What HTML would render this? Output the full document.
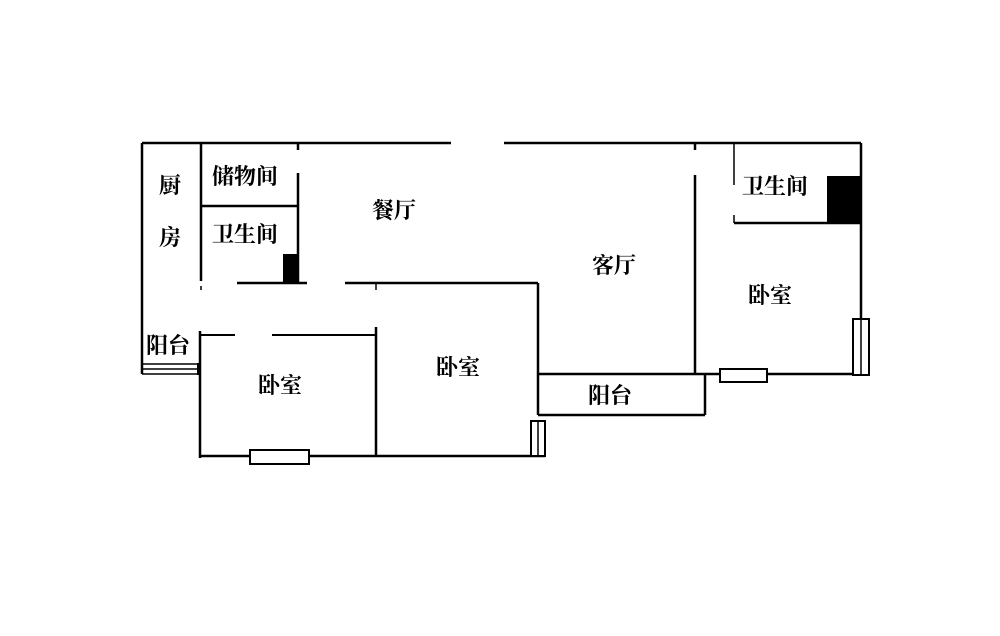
<!DOCTYPE html>
<html><head><meta charset="utf-8"><style>
html,body{margin:0;padding:0;background:#fff;}
svg{display:block}
text{font-family:"Liberation Serif","Noto Serif CJK SC",serif;font-size:22px;font-weight:bold;fill:#000;}
</style></head><body>
<svg width="1000" height="636" viewBox="0 0 1000 636" xmlns="http://www.w3.org/2000/svg">
<g stroke="#000" stroke-width="2.5" fill="none">
<line x1="142" y1="143" x2="451" y2="143"/>
<line x1="504" y1="143" x2="861" y2="143"/>
<line x1="142" y1="143" x2="142" y2="374"/>
<line x1="201" y1="143" x2="201" y2="281"/>
<line x1="201" y1="286" x2="201" y2="290" stroke-width="1.5"/>
<line x1="298" y1="143" x2="298" y2="150"/>
<line x1="298" y1="173" x2="298" y2="283"/>
<line x1="201" y1="206" x2="298" y2="206"/>
<line x1="237" y1="283" x2="307" y2="283"/>
<line x1="345" y1="283" x2="538" y2="283"/>
<line x1="376" y1="283" x2="376" y2="290" stroke-width="1.5"/>
<line x1="538" y1="283" x2="538" y2="415"/>
<line x1="538" y1="374" x2="861" y2="374"/>
<line x1="538" y1="415" x2="705" y2="415"/>
<line x1="705" y1="374" x2="705" y2="415"/>
<line x1="695" y1="143" x2="695" y2="150"/>
<line x1="695" y1="175" x2="695" y2="375"/>
<line x1="861" y1="143" x2="861" y2="375"/>
<line x1="734" y1="143" x2="734" y2="185" stroke-width="1.5"/>
<line x1="734" y1="215" x2="734" y2="223" stroke-width="1.5"/>
<line x1="734" y1="223" x2="861" y2="223"/>
<line x1="200" y1="335" x2="235" y2="335" stroke-width="2"/>
<line x1="272" y1="335" x2="376" y2="335" stroke-width="2"/>
<line x1="376" y1="327" x2="376" y2="456"/>
<line x1="200" y1="331" x2="200" y2="458"/>
<line x1="200" y1="456" x2="545" y2="456"/>
<line x1="142" y1="364" x2="199" y2="364" stroke-width="1.5"/>
<line x1="142" y1="369" x2="199" y2="369" stroke-width="1.5"/>
<line x1="142" y1="374" x2="199" y2="374" stroke-width="1.5"/>
</g>
<rect x="197" y="363" width="4" height="12" fill="#000"/>
<rect x="283" y="254" width="15" height="29" fill="#000"/>
<rect x="827" y="176" width="34" height="47" fill="#000"/>
<g stroke="#000" stroke-width="2" fill="#fff">
<rect x="250" y="450" width="59" height="14"/>
<rect x="531" y="421" width="14" height="35"/>
<rect x="720" y="369" width="47" height="13"/>
<rect x="853" y="319" width="16" height="56"/>
</g>
<line x1="538" y1="421" x2="538" y2="456" stroke="#000" stroke-width="1.5"/>
<line x1="861" y1="319" x2="861" y2="375" stroke="#000" stroke-width="1.5"/>
<text x="159" y="193">厨</text>
<text x="159" y="245">房</text>
<text x="212" y="184">储物间</text>
<text x="212" y="242">卫生间</text>
<text x="372" y="218">餐厅</text>
<text x="592" y="273">客厅</text>
<text x="742" y="194">卫生间</text>
<text x="748" y="303">卧室</text>
<text x="436" y="375">卧室</text>
<text x="258" y="393">卧室</text>
<text x="146" y="353">阳台</text>
<text x="588" y="403">阳台</text>
</svg>
</body></html>
